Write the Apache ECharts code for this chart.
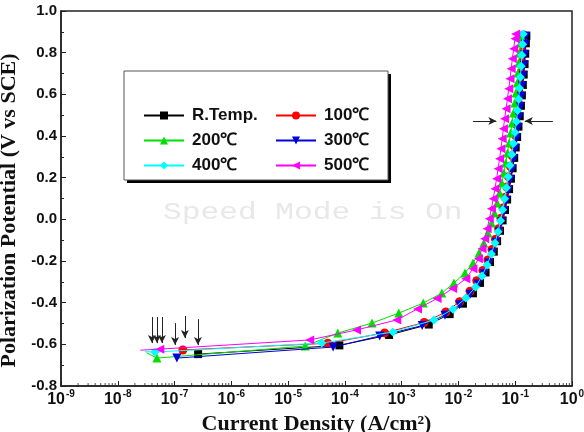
<!DOCTYPE html>
<html>
<head>
<meta charset="utf-8">
<script src="https://cdn.jsdelivr.net/npm/echarts@6/dist/echarts.min.js"></script>
<style>
  html, body { margin: 0; padding: 0; background: #fff; }
  #main { width: 584px; height: 432px; }
</style>
</head>
<body>
<div id="main"></div>
<script>
// polarization curves, [current density A/cm2, potential V vs SCE]
const seriesNames = ['R.Temp.', '100℃', '200℃', '300℃', '400℃', '500℃'];

const rtPoints = [
  [2.6e-7, -0.647], [8e-5, -0.605], [6e-4, -0.555], [3e-3, -0.505], [7e-3, -0.455],
  [0.012, -0.405], [0.018, -0.355], [0.024, -0.305], [0.030, -0.255], [0.036, -0.205],
  [0.042, -0.155], [0.048, -0.105], [0.054, -0.055], [0.060, -0.005], [0.066, 0.045],
  [0.072, 0.095], [0.078, 0.145], [0.084, 0.195], [0.090, 0.245], [0.096, 0.295],
  [0.102, 0.345], [0.108, 0.395], [0.114, 0.445], [0.120, 0.495], [0.126, 0.545],
  [0.131, 0.595], [0.136, 0.645], [0.141, 0.695], [0.146, 0.745], [0.150, 0.795],
  [0.154, 0.845], [0.157, 0.880]
];
const t100Points = [
  [1.4e-7, -0.627], [5e-5, -0.595], [5e-4, -0.545], [2.5e-3, -0.495], [6e-3, -0.445],
  [0.0105, -0.395], [0.016, -0.345], [0.021, -0.295], [0.027, -0.245], [0.033, -0.195],
  [0.039, -0.145], [0.045, -0.095], [0.051, -0.045], [0.056, 0.005], [0.061, 0.055],
  [0.066, 0.105], [0.071, 0.155], [0.076, 0.205], [0.082, 0.255], [0.088, 0.305],
  [0.094, 0.355], [0.100, 0.405], [0.105, 0.455], [0.110, 0.505], [0.115, 0.555],
  [0.119, 0.605], [0.123, 0.655], [0.127, 0.705], [0.131, 0.755], [0.135, 0.805],
  [0.138, 0.855], [0.140, 0.885]
];
const t200Points = [
  [3.2e-8, -0.640], [4.9e-8, -0.666], [2e-5, -0.608], [7.5e-5, -0.546], [3e-4, -0.498],
  [8.9e-4, -0.450], [2.4e-3, -0.402], [5.1e-3, -0.354], [8.3e-3, -0.306], [0.013, -0.258],
  [0.018, -0.210], [0.023, -0.162], [0.028, -0.114], [0.033, -0.066], [0.038, -0.018],
  [0.043, 0.030], [0.048, 0.078], [0.053, 0.126], [0.058, 0.174], [0.063, 0.222],
  [0.068, 0.270], [0.073, 0.318], [0.078, 0.366], [0.083, 0.414], [0.088, 0.462],
  [0.093, 0.510], [0.098, 0.558], [0.103, 0.606], [0.108, 0.654], [0.112, 0.702],
  [0.116, 0.750], [0.120, 0.798], [0.124, 0.846], [0.127, 0.880]
];
const t300Points = [
  [1.1e-7, -0.666], [6.2e-5, -0.613], [4.1e-4, -0.560], [2.3e-3, -0.510], [5.8e-3, -0.460],
  [0.0105, -0.410], [0.016, -0.360], [0.022, -0.310], [0.028, -0.260], [0.034, -0.210],
  [0.040, -0.160], [0.046, -0.110], [0.052, -0.060], [0.058, -0.010], [0.064, 0.040],
  [0.070, 0.090], [0.076, 0.140], [0.082, 0.190], [0.088, 0.240], [0.094, 0.290],
  [0.100, 0.340], [0.106, 0.390], [0.112, 0.440], [0.118, 0.490], [0.123, 0.540],
  [0.128, 0.590], [0.133, 0.640], [0.138, 0.690], [0.143, 0.740], [0.147, 0.790],
  [0.151, 0.840], [0.154, 0.880]
];
const t400Points = [
  [3.0e-8, -0.635], [4.5e-8, -0.637], [3.9e-5, -0.594], [7e-4, -0.541], [3.7e-3, -0.483],
  [8e-3, -0.431], [0.0135, -0.378], [0.020, -0.325], [0.026, -0.272], [0.032, -0.219],
  [0.038, -0.166], [0.044, -0.113], [0.050, -0.060], [0.055, -0.007], [0.060, 0.046],
  [0.065, 0.099], [0.070, 0.152], [0.075, 0.205], [0.081, 0.258], [0.087, 0.311],
  [0.093, 0.364], [0.099, 0.417], [0.105, 0.470], [0.110, 0.523], [0.115, 0.576],
  [0.119, 0.629], [0.123, 0.682], [0.127, 0.735], [0.131, 0.788], [0.135, 0.841],
  [0.138, 0.890]
];
const t500Points = [
  [2.5e-8, -0.628], [5.5e-8, -0.623], [2.4e-5, -0.579], [1.6e-4, -0.531], [8.2e-4, -0.483],
  [1.9e-3, -0.430], [4.2e-3, -0.380], [7.9e-3, -0.332], [0.0135, -0.285], [0.018, -0.237],
  [0.0225, -0.189], [0.026, -0.141], [0.029, -0.093], [0.032, -0.045], [0.035, 0.003],
  [0.038, 0.051], [0.041, 0.099], [0.044, 0.147], [0.047, 0.195], [0.050, 0.243],
  [0.053, 0.291], [0.056, 0.339], [0.059, 0.387], [0.062, 0.435], [0.065, 0.483],
  [0.069, 0.531], [0.073, 0.579], [0.077, 0.627], [0.081, 0.675], [0.085, 0.723],
  [0.089, 0.771], [0.094, 0.819], [0.099, 0.867], [0.102, 0.890]
];

// corrosion potential arrows: [current, from E, to E]
const ecorrArrows = [
  [4.0e-8, -0.469, -0.594], [4.9e-8, -0.469, -0.594], [6.0e-8, -0.469, -0.594],
  [1.02e-7, -0.498, -0.603], [1.52e-7, -0.464, -0.570], [2.58e-7, -0.479, -0.603]
];
// horizontal arrows at 0.47 V: [from current, to current]
const sideArrowE = 0.472;
const sideArrows = [[0.018, 0.0466], [0.46, 0.1476]];

const curves = [rtPoints, t100Points, t200Points, t300Points, t400Points, t500Points];
const colors = ['#000000', '#ff0000', '#00e000', '#0000dd', '#00ffff', '#ff00ff'];
const symbols = ['rect', 'circle', 'triangle', 'triangle', 'diamond', 'triangle'];
const rotations = [0, 0, 0, 180, 0, 90];
const hasTail = [false, false, true, false, true, true];

// minor ticks of the log axis (2..9 in each decade)
const minorTicks = [];
for (let d = -9; d < 0; d++) {
  for (let k = 2; k <= 9; k++) minorTicks.push([k * Math.pow(10, d), -0.8]);
}

const chart = echarts.init(document.getElementById('main'), null, { renderer: 'canvas' });

const sansBold = { fontFamily: 'Liberation Sans', fontWeight: 'bold', color: '#111' };
const serifBold = { fontFamily: 'Liberation Serif', fontWeight: 'bold', color: '#111' };

const series = curves.map((pts, i) => ({
  name: seriesNames[i],
  type: 'line',
  data: pts.map((p, j) => (hasTail[i] && j === 0) ? { value: p, symbol: 'none' } : p),
  symbol: symbols[i],
  symbolRotate: rotations[i],
  symbolSize: i === 0 ? 8 : 9,
  showAllSymbol: true,
  lineStyle: { color: colors[i], width: 1 },
  itemStyle: { color: colors[i] },
  z: 3 + i
}));

series.push({
  type: 'scatter',
  data: minorTicks,
  symbol: 'rect',
  symbolSize: [1, 3],
  symbolOffset: [0, -1.5],
  itemStyle: { color: '#222' },
  silent: true,
  clip: false,
  z: 10
});

series.push({
  type: 'line',
  data: [],
  silent: true,
  markLine: {
    silent: true,
    symbol: ['none', 'arrow'],
    symbolSize: [6, 8],
    label: { show: false },
    lineStyle: { color: '#222', width: 1, type: 'solid' },
    data: ecorrArrows.map(a => [{ coord: [a[0], a[1]] }, { coord: [a[0], a[2]] }])
      .concat(sideArrows.map(a => [{ coord: [a[0], sideArrowE] }, { coord: [a[1], sideArrowE] }]))
  },
  z: 12
});

const legendBase = {
  orient: 'vertical',
  top: 102,
  itemWidth: 40,
  itemHeight: 10,
  itemGap: 8,
  selectedMode: false,
  textStyle: Object.assign({ fontSize: 17, padding: [0, 0, 0, 3] }, sansBold),
  z: 20
};

const option = {
  animation: false,
  backgroundColor: '#fff',
  grid: {
    left: 61, right: 12, top: 11, bottom: 46,
    outerBoundsMode: 'none',
    containLabel: false,
    show: true, borderColor: '#222', borderWidth: 1.5
  },
  legend: [
    Object.assign({ left: 138, data: ['R.Temp.', '200℃', '400℃'] }, legendBase),
    Object.assign({ left: 270, data: ['100℃', '300℃', '500℃'] }, legendBase)
  ],
  graphic: [
    { type: 'rect', shape: { x: 127, y: 74, width: 264, height: 109 }, style: { fill: '#000' }, z: 15 },
    { type: 'rect', shape: { x: 124, y: 71, width: 264, height: 109 }, style: { fill: '#fff', stroke: '#555', lineWidth: 1 }, z: 16 },
    {
      type: 'text', x: 163, y: 201, scaleX: 1.3, z: 1, silent: true,
      style: { text: 'Speed Mode is On', font: '24px "Liberation Mono"', fill: '#e8e8e8' }
    }
  ],
  xAxis: {
    type: 'log',
    logBase: 10,
    min: 1e-9,
    max: 1,
    splitNumber: 9,
    splitLine: { show: false },
    axisLine: { onZero: false, lineStyle: { color: '#222', width: 1.5 } },
    axisTick: { inside: true, length: 5, lineStyle: { color: '#222' } },
    axisLabel: {
      margin: 3,
      showMinLabel: true,
      showMaxLabel: true,
      formatter: v => '{b|10}{s|' + Math.round(Math.log10(v)) + '}',
      rich: {
        b: Object.assign({ fontSize: 16, verticalAlign: 'bottom' }, sansBold),
        s: Object.assign({ fontSize: 10, verticalAlign: 'top', padding: [0, 0, 9, 1] }, sansBold)
      }
    },
    name: 'Current Density (A/cm²)',
    nameLocation: 'middle',
    nameGap: 27,
    nameTextStyle: Object.assign({ fontSize: 22 }, serifBold)
  },
  yAxis: {
    type: 'value',
    min: -0.8,
    max: 1.0,
    interval: 0.2,
    splitLine: { show: false },
    axisLine: { lineStyle: { color: '#222', width: 1.5 } },
    axisTick: { inside: true, length: 5, lineStyle: { color: '#222' } },
    minorTick: { show: true, splitNumber: 2, length: 3, lineStyle: { color: '#222' } },
    axisLabel: Object.assign({ fontSize: 15, margin: 4, formatter: v => v.toFixed(1) }, sansBold),
    name: 'Polarization Potential (V vs SCE)',
    nameLocation: 'middle',
    nameGap: 37,
    nameTextStyle: Object.assign({ fontSize: 22, padding: [0, 24, 0, 0] }, serifBold)
  },
  series: series
};

chart.setOption(option);
</script>
</body>
</html>
